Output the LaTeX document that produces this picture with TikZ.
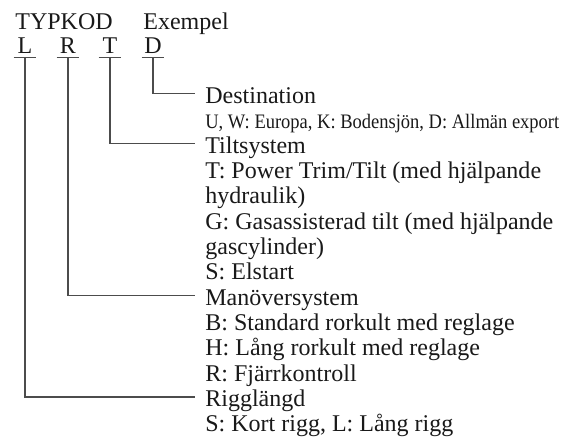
\documentclass[tikz,border=0pt]{standalone}
\usepackage{fontspec}
\setmainfont{Liberation Serif}
\newfontfamily\narrowfont[FakeStretch=0.9]{Liberation Serif}
\usetikzlibrary{positioning}

\tikzset{
  txt/.style={anchor=base west, inner sep=0, font=\fontsize{13.66}{14.4}\selectfont, text=black!90},
  small/.style={txt, font=\narrowfont\fontsize{11.7}{12}\selectfont},
  letter/.style={txt, anchor=base, minimum width=0.44cm, text height=0.34cm, text depth=0.07cm},
  link/.style={line width=0.6pt, black!70}
}

\begin{document}
\begin{tikzpicture}
      \useasboundingbox (0,0) rectangle (11.26,8.76);
      % header
      \node[txt] (typ) at (0.30,8.16) {TYPKOD};
      \node[txt] (ex) at (2.86,8.16) {Exempel};
      \node[letter] (L) at (0.50,7.68) {L};
      \node[letter] (R) at (1.36,7.68) {R};
      \node[letter] (T) at (2.20,7.68) {T};
      \node[letter] (D) at (3.06,7.68) {D};
      \foreach \n in {L,R,T,D}
        \draw[link] (\n.south west)--(\n.south east);
      % descriptions
      \node[txt] (dest) at (4.10,6.69) {Destination};
      \node[small] (destA) at (4.10,6.19) {U, W: Europa, K: Bodensjön, D: Allmän export};
      \node[txt] (tilt) at (4.10,5.69) {Tiltsystem};
      \node[txt] (tiltA) at (4.10,5.18) {T: Power Trim/Tilt (med hjälpande};
      \node[txt] (tiltB) at (4.10,4.68) {hydraulik)};
      \node[txt] (tiltC) at (4.10,4.17) {G: Gasassisterad tilt (med hjälpande};
      \node[txt] (tiltD) at (4.10,3.66) {gascylinder)};
      \node[txt] (tiltE) at (4.10,3.16) {S: Elstart};
      \node[txt] (mano) at (4.10,2.65) {Manöversystem};
      \node[txt] (manoA) at (4.10,2.14) {B: Standard rorkult med reglage};
      \node[txt] (manoB) at (4.10,1.64) {H: Lång rorkult med reglage};
      \node[txt] (manoC) at (4.10,1.13) {R: Fjärrkontroll};
      \node[txt] (rigg) at (4.10,0.62) {Rigglängd};
      \node[txt] (riggA) at (4.10,0.12) {S: Kort rigg, L: Lång rigg};
      % connectors
      \draw[link] (D.south) |- ([xshift=-0.2cm,yshift=0.2cm]dest.base west);
      \draw[link] (T.south) |- ([xshift=-0.2cm,yshift=0.2cm]tilt.base west);
      \draw[link] (R.south) |- ([xshift=-0.2cm,yshift=0.2cm]mano.base west);
      \draw[link] (L.south) |- ([xshift=-0.2cm,yshift=0.2cm]rigg.base west);
\end{tikzpicture}
\end{document}
